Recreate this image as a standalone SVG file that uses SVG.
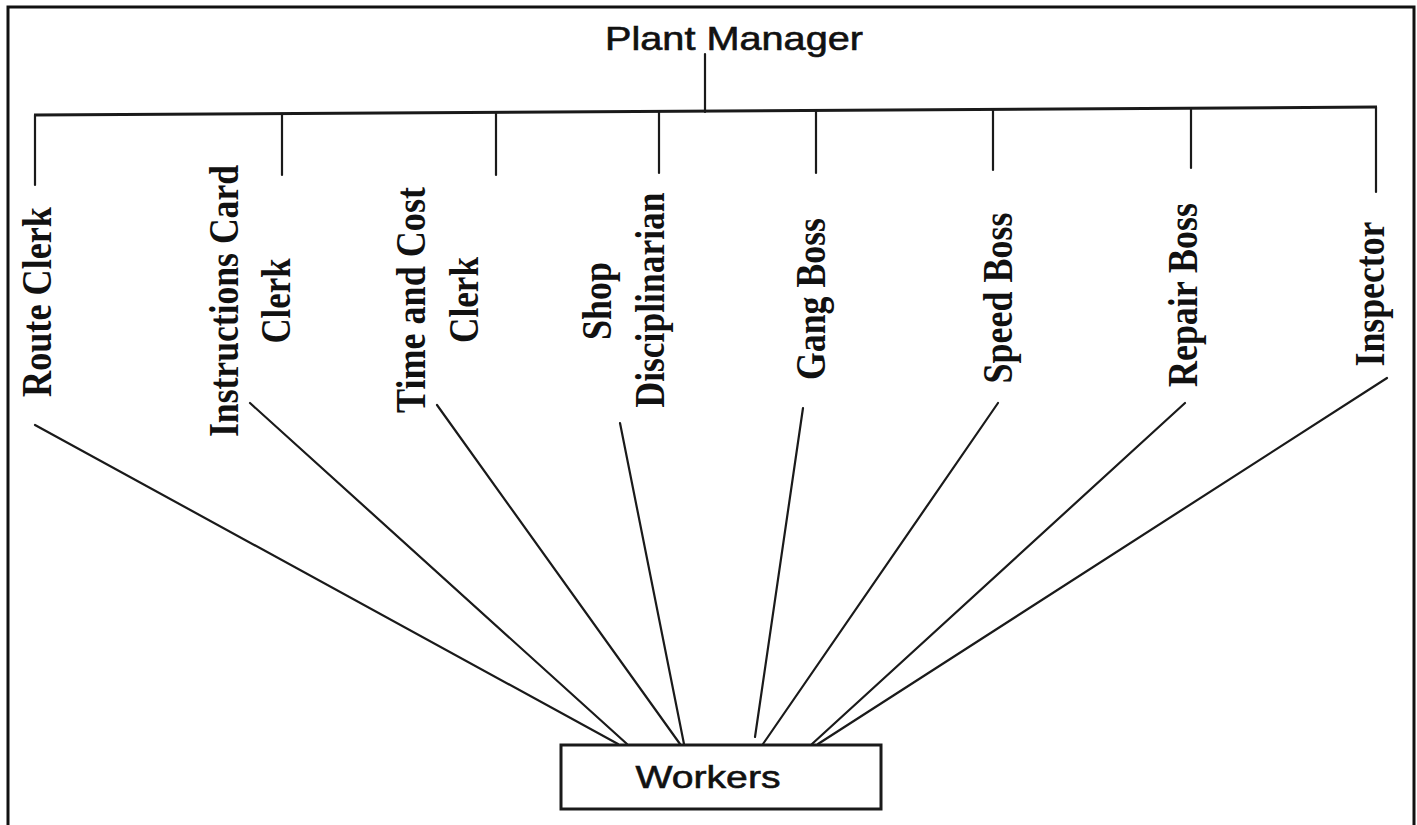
<svg xmlns="http://www.w3.org/2000/svg" width="1417" height="825" viewBox="0 0 1417 825">
  <style>
    .frame { fill: none; stroke: #111; stroke-width: 3; }
    .ln { stroke: #1a1a1a; stroke-width: 2.2; fill: none; stroke-linecap: round; }
    .bus { stroke: #1a1a1a; stroke-width: 3; fill: none; }
    .lbl { font-family: "Liberation Serif", "Times New Roman", serif; font-weight: bold; font-size: 42px; fill: #111; text-anchor: middle; }
    .sans { font-family: "Liberation Sans", Arial, sans-serif; fill: #111; stroke: #111; stroke-width: 0.6; text-anchor: middle; }
    .box { fill: #fff; stroke: #1a1a1a; stroke-width: 3; }
  </style>
  <rect width="1417" height="825" fill="#fff"/>
  <path class="frame" d="M8,825 V7 H1414 V825"/>

  <g id="connectors">
    <line class="ln" x1="705" y1="54" x2="705" y2="112"/>
    <line class="bus" x1="34" y1="115" x2="1377" y2="107"/>
    <line class="ln" x1="35" y1="115" x2="35" y2="185"/>
    <line class="ln" x1="282" y1="114" x2="282" y2="175"/>
    <line class="ln" x1="496" y1="112" x2="496" y2="175"/>
    <line class="ln" x1="659" y1="111" x2="659" y2="173"/>
    <line class="ln" x1="816" y1="110" x2="816" y2="173"/>
    <line class="ln" x1="993" y1="109" x2="993" y2="170"/>
    <line class="ln" x1="1191" y1="108" x2="1191" y2="168"/>
    <line class="ln" x1="1376" y1="107" x2="1376" y2="192"/>

    <line class="ln" x1="35" y1="425" x2="618" y2="744"/>
    <line class="ln" x1="250" y1="403" x2="627" y2="744"/>
    <line class="ln" x1="437" y1="405" x2="680" y2="744"/>
    <line class="ln" x1="620" y1="423" x2="684" y2="744"/>
    <line class="ln" x1="803" y1="408" x2="755" y2="737"/>
    <line class="ln" x1="998" y1="403" x2="763" y2="744"/>
    <line class="ln" x1="1185" y1="403" x2="812" y2="744"/>
    <line class="ln" x1="1387" y1="378" x2="818" y2="744"/>
  </g>

  <g id="plant-manager">
    <text class="sans" x="734" y="50" font-size="33" textLength="258" lengthAdjust="spacingAndGlyphs">Plant Manager</text>
  </g>

  <g id="route-clerk">
    <text class="lbl" transform="translate(51,302) rotate(-90)" textLength="190" lengthAdjust="spacingAndGlyphs">Route Clerk</text>
  </g>
  <g id="instructions-card-clerk">
    <text class="lbl" transform="translate(238,301) rotate(-90)" textLength="272" lengthAdjust="spacingAndGlyphs">Instructions Card</text>
    <text class="lbl" transform="translate(290,301) rotate(-90)" textLength="85" lengthAdjust="spacingAndGlyphs">Clerk</text>
  </g>
  <g id="time-cost-clerk">
    <text class="lbl" transform="translate(425,300) rotate(-90)" textLength="226" lengthAdjust="spacingAndGlyphs">Time and Cost</text>
    <text class="lbl" transform="translate(478,300) rotate(-90)" textLength="86" lengthAdjust="spacingAndGlyphs">Clerk</text>
  </g>
  <g id="shop-disciplinarian">
    <text class="lbl" transform="translate(611,301) rotate(-90)" textLength="78" lengthAdjust="spacingAndGlyphs">Shop</text>
    <text class="lbl" transform="translate(664,300) rotate(-90)" textLength="215" lengthAdjust="spacingAndGlyphs">Disciplinarian</text>
  </g>
  <g id="gang-boss">
    <text class="lbl" transform="translate(825,299) rotate(-90)" textLength="162" lengthAdjust="spacingAndGlyphs">Gang Boss</text>
  </g>
  <g id="speed-boss">
    <text class="lbl" transform="translate(1012,298) rotate(-90)" textLength="171" lengthAdjust="spacingAndGlyphs">Speed Boss</text>
  </g>
  <g id="repair-boss">
    <text class="lbl" transform="translate(1197,295) rotate(-90)" textLength="184" lengthAdjust="spacingAndGlyphs">Repair Boss</text>
  </g>
  <g id="inspector">
    <text class="lbl" transform="translate(1384,294) rotate(-90)" textLength="145" lengthAdjust="spacingAndGlyphs">Inspector</text>
  </g>

  <g id="workers">
    <rect class="box" x="561" y="745" width="320" height="64"/>
    <text class="sans" x="708" y="788" font-size="32" textLength="145" lengthAdjust="spacingAndGlyphs">Workers</text>
  </g>
</svg>
